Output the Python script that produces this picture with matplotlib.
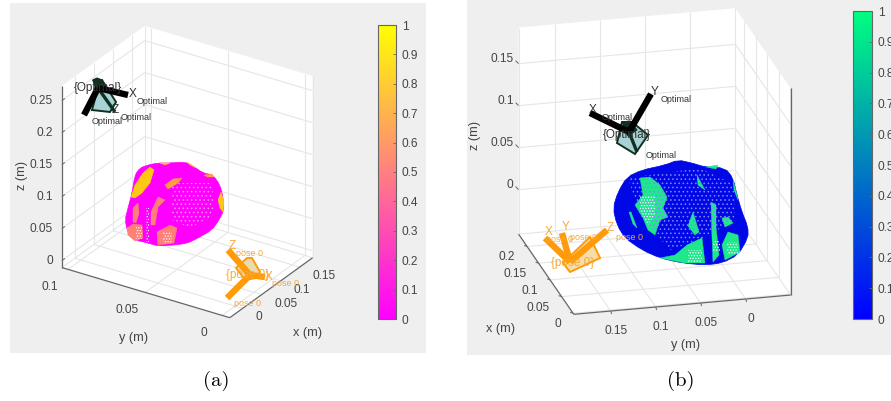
import numpy as np
import matplotlib
matplotlib.use("Agg")
import matplotlib.pyplot as plt
from matplotlib.patches import Polygon
from matplotlib.cm import ScalarMappable
from matplotlib.colors import Normalize

plt.rcParams['font.family'] = ['Liberation Sans', 'DejaVu Sans']
plt.rcParams['hatch.linewidth'] = 0.6

W, H = 891, 401
GRID = '#e6e6e6'
AXIS = '#666666'
LABEL = '#444444'
ORANGE = '#ff9a0a'
ORANGE_TXT = '#f5a93a'
DARK = '#12301f'

# ticks
cbar_ticks = [0, 0.1, 0.2, 0.3, 0.4, 0.5, 0.6, 0.7, 0.8, 0.9, 1]
a_xticks = [0, 0.05, 0.1, 0.15]
a_yticks = [0, 0.05, 0.1]
a_zticks = [0, 0.05, 0.1, 0.15, 0.2, 0.25]
b_xticks = [0, 0.05, 0.1, 0.15, 0.2]
b_yticks = [0, 0.05, 0.1, 0.15]
b_zticks = [0, 0.05, 0.1, 0.15]

# axis limits and how they land on the picture
a_lim = dict(x=(-0.034, 0.184), y=(-0.005, 0.104), z=(-0.011, 0.273))
a_view = dict(o=(235, 299), ex=(380, -275), ey=(-1540, -460), ez=-640)
b_lim = dict(x=(-0.003, 0.237), y=(-0.05, 0.191), z=(-0.053, 0.193))
b_view = dict(o=(745, 253.5), ex=(-230, -334), ey=(-900, 80), ez=-840)

# object (a), traced in picture pixels
a_blob = [(135, 175), (140, 168), (148, 165), (158, 163), (170, 163), (185, 162), (193, 166), (203, 173),
          (213, 175), (220, 185), (223, 197), (224, 210), (219, 220), (212, 230), (198, 238), (188, 243),
          (175, 245), (158, 246), (148, 243), (135, 240), (128, 233), (125, 220), (128, 208), (132, 193)]
a_yellow = [[(143, 173), (150, 167), (154, 170), (150, 183), (142, 193), (135, 198), (131, 197), (135, 185)],
            [(218, 200), (221, 192), (224, 202), (223, 212), (220, 208)],
            [(160, 163), (170, 163), (165, 165)],
            [(187, 162), (193, 166), (196, 168), (190, 165)]]
a_orange = [[(165, 185), (173, 179), (182, 178), (178, 183), (168, 189)],
            [(204, 175), (212, 174), (214, 177), (207, 177)]]
a_salmon = [[(127, 228), (133, 224), (142, 225), (143, 238), (135, 241), (128, 235)],
            [(133, 208), (138, 203), (139, 213), (136, 223), (133, 222)],
            [(151, 212), (158, 197), (165, 200), (158, 207), (155, 225), (151, 225)],
            [(157, 232), (170, 225), (177, 228), (174, 243), (158, 245)]]
a_sparse = [[(172, 183), (212, 183), (214, 215), (190, 228), (172, 220)]]
a_lattice = [[(136, 226), (142, 226), (142, 239), (136, 239)],
             [(163, 232), (172, 232), (172, 244), (163, 244)],
             [(146, 208), (149, 208), (149, 242), (146, 242)]]

# object (b)
b_blob = [(613, 208), (618, 192), (627, 177), (642, 170), (665, 165), (678, 160), (692, 163), (705, 167),
          (725, 168), (733, 178), (737, 195), (742, 212), (748, 227), (748, 238), (738, 255), (722, 263),
          (705, 265), (682, 263), (660, 258), (642, 250), (625, 238), (617, 225)]
b_green = [[(640, 178), (650, 177), (660, 185), (667, 197), (663, 208), (668, 217), (660, 220), (655, 235),
            (648, 230), (643, 218), (635, 205), (643, 195)],
           [(697, 175), (705, 190), (698, 185)],
           [(660, 258), (675, 255), (687, 245), (702, 238), (705, 263), (685, 263)],
           [(688, 226), (693, 212), (699, 232), (695, 235)],
           [(711, 202), (716, 205), (716, 227), (719, 255), (713, 262), (712, 238)],
           [(722, 245), (728, 232), (738, 235), (740, 252), (725, 260)],
           [(722, 218), (728, 217), (733, 223), (725, 227)],
           [(706, 167), (718, 165), (716, 169)],
           [(733, 180), (737, 195), (738, 200), (734, 190)],
           [(629, 212), (631, 212), (637, 228), (633, 224)]]
b_sparse = [[(628, 178), (700, 168), (735, 185), (735, 220), (700, 240), (670, 250), (640, 215)]]
b_lattice = [[(688, 250), (702, 250), (702, 262), (688, 262)],
             [(713, 240), (720, 240), (720, 252), (713, 252)],
             [(727, 242), (738, 242), (738, 255), (727, 255)],
             [(640, 195), (655, 195), (655, 215), (648, 225), (640, 210)]]

# camera frames: centre, axis ends, frustum
a_opt_arms = [(84, 115), (128, 95)]
a_opt_zarm = (115, 112)
a_opt_centre = (98, 88)
a_opt_body = [(93, 80), (102, 80), (116, 102), (110, 112), (92, 110), (98, 88)]
a_opt_cap = [(93, 80), (97, 78), (102, 80), (105, 88), (96, 90)]
a_pose_arms = [(228, 250), (227, 298), (265, 277)]
a_pose_centre = (250, 275)
a_pose_body = [(236, 268), (247, 258), (252, 258), (260, 272), (256, 278), (245, 280)]
b_opt_arms = [(651, 94), (590, 113)]
b_opt_zarm = (637, 152)
b_opt_centre = (629, 132)
b_opt_body = [(617, 143), (635, 154), (648, 135), (632, 122), (622, 122)]
b_opt_cap = [(622, 122), (630, 121), (637, 130), (628, 136)]
b_pose_arms = [(545, 238), (562, 233), (607, 230)]
b_pose_centre = (570, 262)
b_pose_body = [(563, 263), (590, 237), (600, 258), (570, 272)]

# labels next to the frames: text, x, y, size
a_opt_text = [('{Optimal}', 98, 88, 8.5), ('X', 133, 94, 8.5), ('Optimal', 152, 101, 6.5), ('Z', 115, 110, 8.5),
              ('Optimal', 136, 117, 6.5), ('Optimal', 107, 122, 6.5)]
a_pose_text = [('{pose 0}', 248, 275, 8.5), ('Z', 232, 246, 8.5), ('pose 0', 249, 254, 6.5), ('X', 269, 277, 8.5),
               ('pose 0', 286, 284, 6.5), ('pose 0', 247, 304, 6.5)]
b_opt_text = [('{Optimal}', 627, 135, 8.5), ('Y', 655, 92, 8.5), ('Optimal', 676, 99, 6.5), ('X', 593, 110, 8.5),
              ('Optimal', 617, 118, 6.5), ('Optimal', 661, 155, 6.5)]
b_pose_text = [('{pose 0}', 573, 263, 8.5), ('X', 549, 232, 8.5), ('Y', 566, 227, 8.5), ('Z', 610, 228, 8.5),
               ('pose 0', 560, 240, 6.5), ('pose 0', 584, 237, 6.5), ('pose 0', 629, 237, 6.5)]


def proj(view, x, y, z):
    px = view['o'][0] + x*view['ex'][0] + y*view['ey'][0]
    py = view['o'][1] + x*view['ex'][1] + y*view['ey'][1] + z*view['ez']
    return px, py


def seg(ax, p, q, **kw):
    ax.plot([p[0], q[0]], [p[1], q[1]], solid_capstyle='butt', **kw)


def rounded(poly):
    # one pass of corner cutting, only to soften the traced outline when drawn
    pts = np.array(poly, dtype=float)
    nxt = np.roll(pts, -1, axis=0)
    return np.column_stack([0.75*pts + 0.25*nxt, 0.25*pts + 0.75*nxt]).reshape(-1, 2)


def draw_box(ax, view, lim, xticks, yticks, zticks, xfar, yfar):
    x0, x1 = lim['x']
    y0, y1 = lim['y']
    z0, z1 = lim['z']
    xnear = x0 if xfar == x1 else x1
    ynear = y0 if yfar == y1 else y1
    outline = [proj(view, xnear, yfar, z0), proj(view, xnear, yfar, z1), proj(view, xfar, yfar, z1),
               proj(view, xfar, ynear, z1), proj(view, xfar, ynear, z0), proj(view, xnear, ynear, z0)]
    ax.add_patch(Polygon(outline, closed=True, fc='white', ec='none', zorder=1))
    kw = dict(color=GRID, lw=0.8, zorder=2)
    for x in xticks:
        seg(ax, proj(view, x, y0, z0), proj(view, x, y1, z0), **kw)
        seg(ax, proj(view, x, yfar, z0), proj(view, x, yfar, z1), **kw)
    for y in yticks:
        seg(ax, proj(view, x0, y, z0), proj(view, x1, y, z0), **kw)
        seg(ax, proj(view, xfar, y, z0), proj(view, xfar, y, z1), **kw)
    for z in zticks:
        seg(ax, proj(view, xnear, yfar, z), proj(view, xfar, yfar, z), **kw)
        seg(ax, proj(view, xfar, yfar, z), proj(view, xfar, ynear, z), **kw)
    seg(ax, proj(view, xfar, yfar, z0), proj(view, xfar, yfar, z1), **kw)
    seg(ax, proj(view, xfar, ynear, z0), proj(view, xfar, ynear, z1), **kw)
    seg(ax, proj(view, xfar, yfar, z0), proj(view, xnear, yfar, z0), **kw)
    seg(ax, proj(view, xfar, yfar, z0), proj(view, xfar, ynear, z0), **kw)
    # the three ruled edges
    ax_kw = dict(color=AXIS, lw=0.9, zorder=3)
    seg(ax, proj(view, xnear, yfar, z0), proj(view, xnear, yfar, z1), **ax_kw)
    seg(ax, proj(view, xnear, yfar, z0), proj(view, xnear, ynear, z0), **ax_kw)
    seg(ax, proj(view, xnear, ynear, z0), proj(view, xfar, ynear, z0), **ax_kw)


def tick_text(ax, px, py, value, ha='center'):
    ax.text(px, py, f'{value:g}', fontsize=8.6, color=LABEL, ha=ha, va='center', zorder=3)


def draw_blob(ax, blob, base, patches, sparse, sparse_color, lattice):
    ax.add_patch(Polygon(rounded(blob), closed=True, fc=base, ec=base, lw=0.5, zorder=4))
    for color, polys in patches:
        for p in polys:
            ax.add_patch(Polygon(p, closed=True, fc=color, ec=color, lw=0.3, zorder=5))
    for p in sparse:
        ax.add_patch(Polygon(p, closed=True, fc='none', ec=sparse_color, lw=0, hatch='....', zorder=6))
    for p in lattice:
        ax.add_patch(Polygon(p, closed=True, fc='none', ec='white', lw=0, hatch='......', zorder=6))


def draw_frame(ax, centre, arms, body, color, edge, fill, text, text_color, zarm=None, cap=None):
    ax.add_patch(Polygon(body, closed=True, fc=fill, ec=edge, lw=1.4, zorder=7))
    if cap:
        ax.add_patch(Polygon(cap, closed=True, fc=edge, ec=edge, lw=0.8, zorder=7))
    if zarm:
        seg(ax, centre, zarm, color=edge, lw=2.4, zorder=8)
    for end in arms:
        seg(ax, centre, end, color=color, lw=4.6, zorder=8)
    for s, x, y, size in text:
        ax.text(x, y, s, fontsize=size, color=text_color, ha='center', va='center', zorder=9)


def colorbar(fig, cmap, left, right, top, bottom):
    cax = fig.add_axes([left/W, 1 - bottom/H, (right - left)/W, (bottom - top)/H])
    cb = fig.colorbar(ScalarMappable(Normalize(0, 1), cmap), cax=cax)
    cb.set_ticks(cbar_ticks)
    cb.set_ticklabels([f'{t:g}' for t in cbar_ticks])
    cb.ax.tick_params(direction='in', length=2.5, width=0.6, color=AXIS, labelcolor=LABEL, labelsize=8.6, pad=4)
    cb.outline.set_edgecolor(AXIS)
    cb.outline.set_linewidth(0.8)


fig = plt.figure(figsize=(W/100, H/100), dpi=100)
ax = fig.add_axes([0, 0, 1, 1])
ax.set_xlim(0, W)
ax.set_ylim(H, 0)
ax.axis('off')

# grey panels behind the two MATLAB figures
for x0, x1, y0, y1 in [(10, 426, 3, 353), (467, 891, 0, 355)]:
    ax.fill([x0, x1, x1, x0], [y0, y0, y1, y1], color='#efefef', lw=0, zorder=0)

# panel (a)
draw_box(ax, a_view, a_lim, a_xticks, a_yticks, a_zticks, a_lim['x'][1], a_lim['y'][1])
for z in a_zticks:
    px, py = proj(a_view, a_lim['x'][0], a_lim['y'][1], z)
    seg(ax, (px, py), (px + 3, py - 2), color=AXIS, lw=0.7, zorder=3)
    tick_text(ax, px - 9, py, z, ha='right')
for y in a_yticks:
    px, py = proj(a_view, a_lim['x'][0], y, a_lim['z'][0])
    tick_text(ax, px - 18, py + 18, y)
for x in a_xticks:
    px, py = proj(a_view, x, a_lim['y'][0], a_lim['z'][0])
    tick_text(ax, px + 13, py + 9, x, ha='left')
ax.text(22, 175, 'z (m)', rotation=90, fontsize=9.2, color=LABEL, ha='center', va='center')
ax.text(134, 338, 'y (m)', fontsize=9.2, color=LABEL, ha='center', va='center')
ax.text(308, 333, 'x (m)', fontsize=9.2, color=LABEL, ha='center', va='center')
draw_blob(ax, a_blob, '#ff00ff', [('#ffc814', a_yellow), ('#ffa040', a_orange), ('#ff8078', a_salmon)],
          a_sparse, '#ff90ff', a_lattice)
draw_frame(ax, a_opt_centre, a_opt_arms, a_opt_body, 'black', DARK, '#a9d2d6', a_opt_text, '#333333',
           zarm=a_opt_zarm, cap=a_opt_cap)
draw_frame(ax, a_pose_centre, a_pose_arms, a_pose_body, ORANGE, ORANGE, '#e8dcae', a_pose_text, ORANGE_TXT)

# panel (b)
draw_box(ax, b_view, b_lim, b_xticks, b_yticks, b_zticks, b_lim['x'][1], b_lim['y'][0])
for z in b_zticks:
    px, py = proj(b_view, b_lim['x'][1], b_lim['y'][1], z)
    seg(ax, (px, py), (px - 3, py - 3), color=AXIS, lw=0.7, zorder=3)
    tick_text(ax, px - 5, py - 4.5, z, ha='right')
for x in b_xticks:
    px, py = proj(b_view, x, b_lim['y'][1], b_lim['z'][0])
    seg(ax, (px, py), (px - 3, py - 1), color=AXIS, lw=0.7, zorder=3)
    tick_text(ax, px - 12, py + 11, x, ha='right')
for y in b_yticks:
    px, py = proj(b_view, b_lim['x'][0], y, b_lim['z'][0])
    seg(ax, (px, py), (px + 1, py + 3), color=AXIS, lw=0.7, zorder=3)
    tick_text(ax, px + 5, py + 20, y)
ax.text(475, 135, 'z (m)', rotation=90, fontsize=9.2, color=LABEL, ha='center', va='center')
ax.text(501, 329, 'x (m)', fontsize=9.2, color=LABEL, ha='center', va='center')
ax.text(686, 345, 'y (m)', fontsize=9.2, color=LABEL, ha='center', va='center')
draw_blob(ax, b_blob, '#0008e6', [('#1fe88c', b_green)], b_sparse, '#8088ff', b_lattice)
draw_frame(ax, b_opt_centre, b_opt_arms, b_opt_body, 'black', DARK, '#a9d2d6', b_opt_text, '#333333',
           zarm=b_opt_zarm, cap=b_opt_cap)
draw_frame(ax, b_pose_centre, b_pose_arms, b_pose_body, ORANGE, ORANGE, '#f8dca8', b_pose_text, ORANGE_TXT)

# captions
ax.text(216.5, 381, '(a)', family='cmr10', fontsize=15, color='black', ha='center', va='center')
ax.text(681, 381, '(b)', family='cmr10', fontsize=15, color='black', ha='center', va='center')

colorbar(fig, 'spring', 378, 396, 25, 319)
colorbar(fig, 'winter', 853, 872, 11, 319)

fig.savefig('out.png', dpi=100)
